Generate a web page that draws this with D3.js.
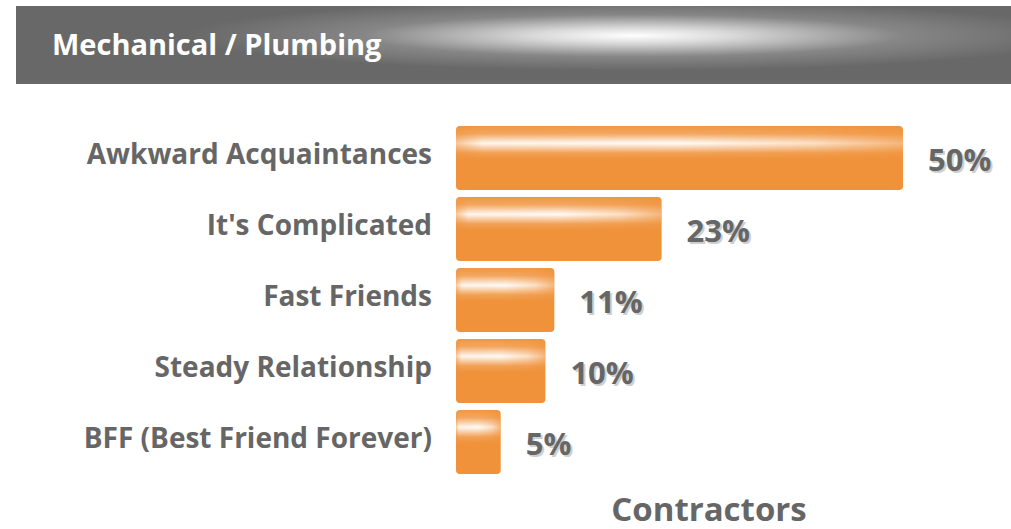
<!DOCTYPE html>
<html lang="en">
<head>
  <meta charset="UTF-8">
  <title>Mechanical / Plumbing</title>
  <style>
    body { margin: 0; background: #fff; }
    svg { display: block; font-family: "Open Sans", sans-serif; }
    .cat { fill: #666; font-weight: 700; font-size: 28px; }
    .val { fill: #666; font-weight: 700; font-size: 31px; }
    .val-shadow { fill: #cfcfcf; font-weight: 700; font-size: 31px; }
  </style>
  <script src="https://d3js.org/d3.v7.min.js"></script>
</head>
<body>
<div id="chart"></div>
<script>
  // data
  var categories = ["Awkward Acquaintances", "It's Complicated", "Fast Friends", "Steady Relationship", "BFF (Best Friend Forever)"];
  var values = [50, 23, 11, 10, 5];
  var title = "Mechanical / Plumbing";
  var axisTitle = "Contractors";

  var width = 1011, height = 529;
  var svg = d3.select("#chart").append("svg")
    .attr("width", width)
    .attr("height", height);

  var defs = svg.append("defs");

  // header gloss
  var hg = defs.append("radialGradient")
    .attr("id", "headGloss")
    .attr("cx", 0.62).attr("cy", 0.38).attr("r", 0.5)
    .attr("gradientTransform", "translate(0.62,0.38) scale(0.9,0.9) translate(-0.62,-0.38)");
  hg.append("stop").attr("offset", "0%").attr("stop-color", "#fff").attr("stop-opacity", 1);
  hg.append("stop").attr("offset", "22%").attr("stop-color", "#fff").attr("stop-opacity", 0.75);
  hg.append("stop").attr("offset", "60%").attr("stop-color", "#fff").attr("stop-opacity", 0.2);
  hg.append("stop").attr("offset", "100%").attr("stop-color", "#fff").attr("stop-opacity", 0);

  // bar gloss: vertical highlight band, faded toward the ends
  var bv = defs.append("linearGradient")
    .attr("id", "barGloss")
    .attr("x1", 0).attr("y1", 0).attr("x2", 0).attr("y2", 1);
  bv.append("stop").attr("offset", "0%").attr("stop-color", "#fff").attr("stop-opacity", 0.05);
  bv.append("stop").attr("offset", "12%").attr("stop-color", "#fff").attr("stop-opacity", 0.2);
  bv.append("stop").attr("offset", "27%").attr("stop-color", "#fff").attr("stop-opacity", 0.97);
  bv.append("stop").attr("offset", "42%").attr("stop-color", "#fff").attr("stop-opacity", 0.15);
  bv.append("stop").attr("offset", "52%").attr("stop-color", "#fff").attr("stop-opacity", 0);

  var bh = defs.append("linearGradient")
    .attr("id", "barFade")
    .attr("x1", 0).attr("y1", 0).attr("x2", 1).attr("y2", 0);
  bh.append("stop").attr("offset", "0%").attr("stop-color", "#fff").attr("stop-opacity", 0.5);
  bh.append("stop").attr("offset", "6%").attr("stop-color", "#fff").attr("stop-opacity", 0.95);
  bh.append("stop").attr("offset", "50%").attr("stop-color", "#fff").attr("stop-opacity", 1);
  bh.append("stop").attr("offset", "80%").attr("stop-color", "#fff").attr("stop-opacity", 0.75);
  bh.append("stop").attr("offset", "100%").attr("stop-color", "#fff").attr("stop-opacity", 0.35);

  defs.append("mask")
    .attr("id", "fadeMask")
    .attr("maskContentUnits", "objectBoundingBox")
    .append("rect")
    .attr("width", 1).attr("height", 1)
    .attr("fill", "url(#barFade)");

  // header band
  svg.append("rect")
    .attr("x", 16).attr("y", 6)
    .attr("width", width - 16).attr("height", 78)
    .attr("fill", "#686868");
  svg.append("rect")
    .attr("x", 16).attr("y", 6)
    .attr("width", width - 16).attr("height", 78)
    .attr("fill", "url(#headGloss)");
  svg.append("text")
    .attr("x", 52).attr("y", 55)
    .attr("fill", "#fff")
    .attr("font-weight", 700)
    .attr("font-size", 29)
    .text(title);

  // scales
  var x = d3.scaleLinear().domain([0, 50]).range([456, 903]);
  var y = d3.scaleBand().domain(categories).range([126, 474]).paddingInner(7 / 71).paddingOuter(0);

  var bars = svg.append("g");
  bars.selectAll("rect.bar")
    .data(values)
    .enter().append("rect")
    .attr("class", "bar")
    .attr("x", x(0))
    .attr("y", (d, i) => y(categories[i]))
    .attr("width", d => x(d) - x(0))
    .attr("height", y.bandwidth())
    .attr("rx", 4)
    .attr("fill", "#f0923a");

  bars.selectAll("rect.gloss")
    .data(values)
    .enter().append("rect")
    .attr("class", "gloss")
    .attr("x", x(0))
    .attr("y", (d, i) => y(categories[i]))
    .attr("width", d => x(d) - x(0))
    .attr("height", y.bandwidth())
    .attr("rx", 4)
    .attr("fill", "url(#barGloss)")
    .attr("mask", "url(#fadeMask)");

  // category labels
  svg.append("g").selectAll("text")
    .data(categories)
    .enter().append("text")
    .attr("class", "cat")
    .attr("x", 432)
    .attr("y", d => y(d) + y.bandwidth() / 2 + 6)
    .attr("text-anchor", "end")
    .text(d => d);

  // value labels with shadow
  var vl = svg.append("g");
  vl.selectAll("text.val-shadow")
    .data(values)
    .enter().append("text")
    .attr("class", "val-shadow")
    .attr("x", d => x(d) + 25 + 2)
    .attr("y", (d, i) => y(categories[i]) + y.bandwidth() / 2 + 13 + 2)
    .text(d => d + "%");
  vl.selectAll("text.val")
    .data(values)
    .enter().append("text")
    .attr("class", "val")
    .attr("x", d => x(d) + 25)
    .attr("y", (d, i) => y(categories[i]) + y.bandwidth() / 2 + 13)
    .text(d => d + "%");

  // axis title
  svg.append("text")
    .attr("x", 709).attr("y", 521)
    .attr("text-anchor", "middle")
    .attr("fill", "#666")
    .attr("font-weight", 700)
    .attr("font-size", 33)
    .text(axisTitle);
</script>
</body>
</html>
